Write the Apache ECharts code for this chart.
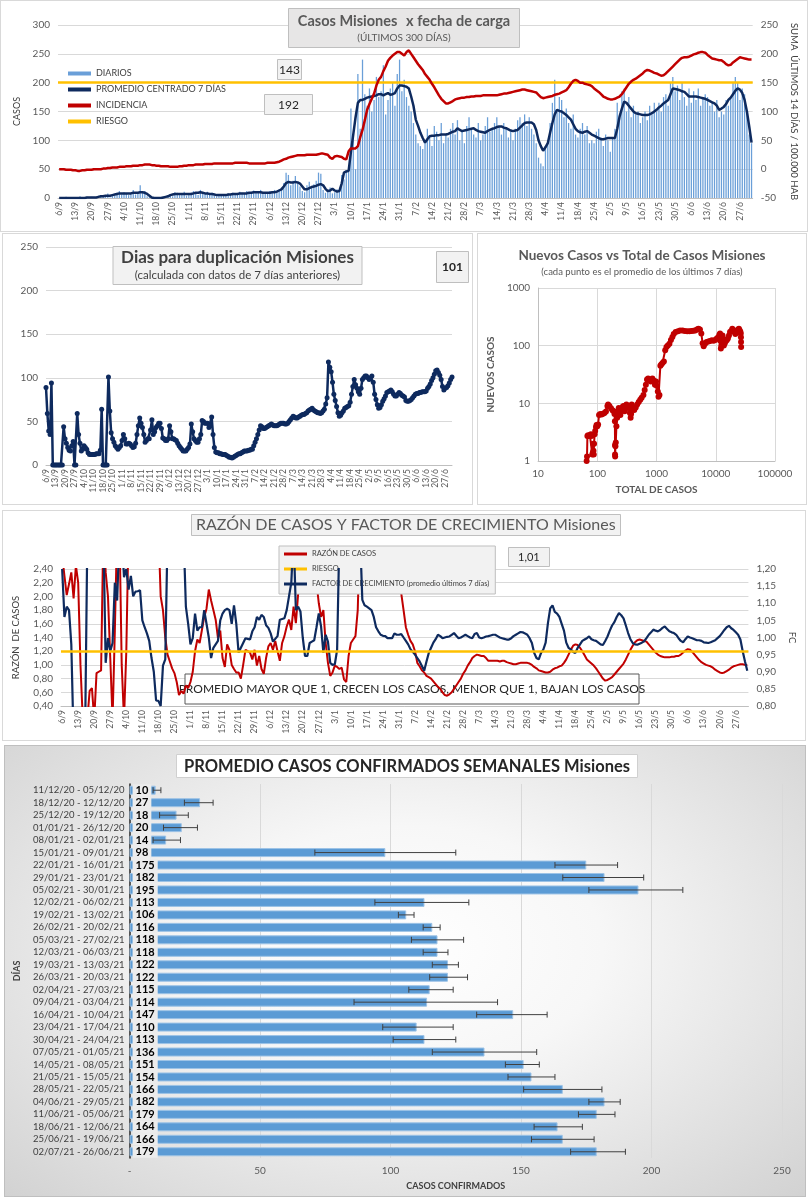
<!DOCTYPE html>
<html><head><meta charset="utf-8">
<script src="https://cdn.jsdelivr.net/npm/echarts@6/dist/echarts.min.js"></script>
<style>
html,body{margin:0;padding:0;background:#fff;}
body{width:808px;height:1200px;position:relative;overflow:hidden;}
.p{position:absolute;box-sizing:border-box;border:1px solid #d9d9d9;}
#c1{left:0;top:0;width:808px;height:232px;}
#c2{left:2px;top:233px;width:471px;height:272px;}
#c3{left:477px;top:233px;width:330px;height:272px;}
#c4{left:2px;top:510px;width:804px;height:231px;}
#c5{left:4px;top:745px;width:802px;height:452px;border-color:#bfbfbf;
 background:radial-gradient(ellipse at 50% 45%, #ffffff 0%, #f7f7f7 35%, #d2d2d2 100%);}
</style></head><body>
<div id="c1" class="p"></div>
<div id="c2" class="p"></div>
<div id="c3" class="p"></div>
<div id="c4" class="p"></div>
<div id="c5" class="p"></div>
<script>
const FONT = 'Lato, "Open Sans", sans-serif';
// ---- daily categories: 300 days from 6/9/2020 ----
const START_Y = 2020, START_M = 8, START_D = 6, N_DAYS = 300;
const DATES = [];
for (let i = 0; i < N_DAYS; i++) {
  const d = new Date(Date.UTC(START_Y, START_M, START_D + i));
  DATES.push(d.getUTCDate() + '/' + (d.getUTCMonth() + 1));
}
// ---- chart 1: casos diarios ----
const DIARIOS = [
0,1,0,2,0,1,0,1,0,3, 1,0,2,1,2,1,0,4,5,2, 3,8,1,6,4,9,12,6,10,7, 5,9,14,6,8,22,10,12,3,2,
1,0,0,0,1,2,1,4,6,3, 10,9,5,8,11,4,6,9,12,7, 5,14,10,8,11,6,9,4,3,7, 5,6,4,8,5,9,8,6,11,9,
7,12,10,8,13,9,11,14,8,7, 10,12,9,14,11,15,18,26,44,40, 22,30,38,25,20,12,10,22,28,18, 24,30,44,42,14,9,12,18,8,10,
15,12,40,32,48,55,155,110,50,215, 120,240,180,160,190,150,170,210,175,185, 230,145,170,190,200,160,215,240,185,205, 175,160,150,130,110,95,90,85,100,120,
105,90,125,115,100,130,95,110,105,120, 130,110,135,100,115,95,125,140,120,110, 105,130,100,110,125,140,115,120,130,140, 125,110,130,120,105,115,100,120,135,140,
130,145,125,140,120,110,95,70,60,55, 90,100,130,165,205,150,175,170,140,155, 130,120,145,110,105,120,130,110,125,95, 100,95,115,120,105,90,110,100,80,105,
120,165,140,185,190,150,175,140,160,145, 150,130,140,150,135,160,145,165,150,165, 150,175,180,160,200,210,185,195,170,200, 175,160,190,165,185,170,190,160,175,180,
175,160,165,150,170,140,150,145,170,160, 175,200,210,200,170,190,180,150,110,95];
const PROMEDIO7 = [
0,0,0,0,0,0,0,0,0,0, 0,0,1,1,1,1,1,2,3,3, 4,4,4,5,6,7,8,8,8,8, 8,8,9,9,9,10,10,9,7,4,
1,0,0,0,0,1,2,3,5,6, 7,7,7,7,7,7,7,7,8,9, 9,10,9,8,8,7,7,6,5,5, 5,5,5,6,6,7,7,7,8,8,
8,8,9,9,10,10,10,10,9,9, 9,9,10,10,11,13,15,20,26,28, 27,27,28,27,25,20,15,15,17,19, 20,21,23,24,22,16,12,13,16,13,
11,12,25,44,46,47,80,110,140,165, 170,170,172,174,175,176,177,178,180,180, 178,180,182,179,180,182,190,195,195,194, 193,190,176,160,136,125,113,104,96,102,
107,108,108,109,109,110,110,110,111,113, 115,116,121,118,116,117,118,119,120,121, 118,116,115,114,113,116,118,120,121,123, 124,124,122,121,119,117,116,117,118,122,
126,130,131,131,131,128,118,100,90,82, 88,95,113,130,145,153,151,150,147,144, 140,136,128,120,116,114,113,115,116,113, 110,108,106,104,102,102,103,104,104,104,
104,120,141,155,167,165,160,155,150,147, 146,145,144,144,144,145,147,150,153,157, 160,164,167,170,180,190,189,188,187,185, 184,180,176,176,176,176,175,174,173,172,
170,168,166,164,160,153,155,158,163,170, 174,180,186,190,188,182,170,150,124,96];
const INCIDENCIA = [
0,0,0,-1,-1,-1,-2,-2,-3,-3, -2,-2,-1,-1,-1,0,0,0,0,1, 1,2,2,3,3,3,4,4,4,5, 5,5,6,6,6,7,7,8,8,8,
7,7,6,6,5,5,5,5,4,4, 4,4,5,5,6,6,7,7,7,8, 8,8,8,9,9,9,9,10,10,10, 10,10,10,10,10,10,11,11,11,11,
11,11,10,10,10,10,10,10,10,10, 11,11,11,11,12,13,15,17,18,20, 21,22,23,24,24,24,24,25,25,25, 25,25,26,27,27,26,25,20,18,22,
23,22,21,18,17,31,36,36,36,40, 55,68,85,103,113,122,131,145,155,160, 170,178,188,193,197,200,203,203,200,197, 203,206,200,194,188,182,177,172,165,160,
155,148,142,135,128,122,118,114,114,116, 118,121,122,123,124,124,125,125,126,126, 127,127,127,128,128,128,128,128,128,128, 129,130,131,131,132,133,134,135,136,137,
138,138,137,136,135,134,133,129,125,123, 124,125,126,127,129,130,131,133,135,137, 142,148,153,155,153,150,150,148,147,146, 144,140,137,134,130,126,124,122,121,121,
122,124,126,130,136,142,148,152,155,157, 160,163,166,170,172,171,169,167,166,164, 162,163,166,170,174,178,182,186,190,193, 194,194,195,197,199,200,202,203,203,202,
198,195,192,191,190,189,189,186,182,180, 181,185,188,191,194,193,192,191,190,190];
const RIESGO_CASOS = 200;
const BOX_A = '143', BOX_B = '192';
// ---- chart 2: dias para duplicacion ----
const DUPLICACION = [
89,59,39,35,94,0,0,0,0,0, 0,0,0,44,30,25,20,17,16,22, 27,0,0,59,35,25,16,18,22,20, 18,14,12,12,12,12,12,13,13,13,
17,64,0,0,0,0,101,62,37,30, 26,22,20,18,20,22,28,35,30,24, 24,25,24,22,20,21,25,35,45,54, 48,43,35,26,28,30,30,40,52,35,
38,43,45,48,48,42,31,30,28,28, 30,45,38,30,30,29,28,25,22,20, 18,16,16,16,18,20,24,47,38,30, 28,26,26,30,35,51,50,48,48,48,
43,45,55,35,20,15,14,14,13,13, 12,12,12,11,10,9,9,8,9,10, 11,12,13,13,14,15,16,16,16,17, 17,18,18,22,26,30,35,40,45,44,
42,42,43,44,45,46,47,46,45,45, 45,46,47,48,48,48,47,47,48,50, 52,54,56,55,54,54,55,56,57,58, 58,59,60,62,63,64,65,63,62,61,
60,60,59,60,62,64,70,77,118,112, 107,95,81,74,67,60,56,57,60,62, 65,66,67,68,72,81,90,98,92,88, 84,81,88,98,100,102,102,100,98,100,
102,95,81,75,69,65,66,69,73,76, 79,83,84,85,86,84,81,79,79,81, 83,82,80,79,78,74,73,73,74,75, 77,79,81,82,82,83,83,84,84,84,
85,88,90,93,97,100,104,108,109,106, 103,98,90,86,88,89,91,94,98,101];
const BOX_DUP = '101';
// ---- chart 3: nuevos casos vs total ----
const TOTAL_CASOS = [66,67,68,70,72,75,78,80,82,84,85,86,87,88,90,92,95,97,100,103,107,112,118,125,132,140,148,152,160,170,180,190,195,198,199,199,200,202,205,210,216,222,230,238,245,252,260,270,280,290,300,310,320,330,345,355,365,372,380,400,420,445,470,500,530,560,600,630,660,690,720,760,800,850,900,940,980,1020,1050,1080,1120,1160,1200,1260,1330,1400,1470,1550,1650,1750,1850,1950,2100,2300,2500,2750,3000,3300,3600,3900,4200,4500,4800,5100,5400,5700,6000,6250,6600,7000,7500,8000,8600,9200,9800,10400,11000,11500,11800,12000,12200,12400,12600,12800,13000,13300,13700,14200,14800,15400,16000,16700,17400,18200,19000,19800,20600,21400,22200,23000,23800,24600,25300,26000,26400,26600,26700,26800];
const NUEVOS_CASOS = [1.0,1.2,2.7,2.8,2.7,2.8,2.9,2.7,1.3,1.4,2.0,1.5,1.3,2.0,2.9,3.3,3.9,4.2,4.0,4.3,6.3,6.5,6.4,6.6,6.8,7.2,9.0,9.5,9.0,8.2,7.6,7.3,6.5,4.9,1.9,1.3,1.2,1.8,2.1,4.0,5.6,7.2,8.3,7.0,6.3,7.5,8.0,8.8,9.0,7.3,8.5,9.5,8.8,8.3,9.0,6.8,5.6,6.5,9.5,8.5,7.7,8.5,9.5,10.5,11.5,12.5,14,17,21,26,27,25,24,27,25,21,24,20,16,13,14,45,47,50,53,83,95,101,108,125,141,160,172,178,184,184,180,178,178,180,182,184,190,197,190,162,110,98,108,116,118,120,124,122,126,133,140,155,162,120,89,100,116,140,150,130,101,110,120,125,133,150,172,180,197,185,172,160,170,184,190,197,185,175,162,140,116,95];
// ---- chart 4: razon de casos y factor de crecimiento ----
const RAZON = [
2.6,2.3,2.02,2.18,2.35,1.97,2.45,2.2,1.0,0.2, 0.2,0.2,0.62,0.66,0.2,0.88,0.9,0.92,3,2.35, 2.0,1.1,0.2,1.5,3,3,1.0,0.2,1.2,3, 3,3,3,3,3,3,3,3,3,3,
3,3,3,2.0,1.8,1.4,1.15,1.05,0.95,0.88, 0.75,0.56,0.62,0.58,0.70,0.66,0.75,0.9,1.2,1.37, 1.32,1.51,1.7,1.82,2.1,1.94,1.8,1.66,1.39,1.5, 1.1,0.97,1.3,1.22,1.0,0.94,0.89,0.89,0.8,1.0,
1.22,1.2,1.18,1.08,1.22,0.99,1.13,0.94,0.87,1.1, 1.27,1.32,1.22,1.35,1.2,1.06,1.32,1.42,1.56,1.66, 1.51,1.85,1.61,2.04,3,3,3,3,3,3, 3,2.2,1.9,1.7,1.8,1.32,1.03,0.84,0.89,0.99,
0.97,0.94,0.96,0.79,0.75,1.13,1.32,1.37,1.42,1.8, 3,3,3,3,3,3,3,3,3,3, 3,3,3,3,3,3,3,3,2.04,1.8, 1.55,1.44,1.35,1.3,1.2,1.03,0.98,0.92,0.89,0.84,
0.82,0.8,0.76,0.72,0.68,0.65,0.6,0.56,0.55,0.57, 0.6,0.65,0.7,0.75,0.8,0.87,0.92,0.99,1.04,1.1, 1.13,1.15,1.14,1.13,1.13,1.1,1.06,1.06,1.06,1.06, 1.06,1.05,1.06,1.06,1.04,1.03,1.02,1.01,1.01,1.02,
1.03,1.03,1.03,1.03,1.02,1.0,0.97,0.95,0.92,0.91, 0.9,0.89,0.89,0.9,0.93,0.95,0.96,0.98,0.99,1.03, 1.08,1.15,1.22,1.28,1.3,1.29,1.25,1.2,1.14,1.08, 1.05,1.02,0.99,0.95,0.9,0.85,0.8,0.77,0.78,0.8,
0.82,0.86,0.9,0.94,0.98,1.02,1.08,1.15,1.22,1.28, 1.33,1.36,1.37,1.36,1.35,1.34,1.3,1.26,1.22,1.18, 1.15,1.13,1.12,1.11,1.11,1.11,1.12,1.12,1.13,1.13, 1.15,1.18,1.21,1.23,1.22,1.19,1.15,1.11,1.07,1.04,
1.02,1.0,0.99,0.98,0.96,0.93,0.91,0.89,0.88,0.89, 0.91,0.93,0.96,0.98,0.99,1.0,1.01,1.01,1.0,1.0];
const FACTOR = [
1.2,1.06,1.09,1.08,0.98,0.7,0.7,0.7,0.7,0.7, 0.7,1.3,1.3,1.3,1.3,1.3,1.3,1.3,1.3,0.926, 0.998,0.96,0.984,1.16,1.108,1.3,1.3,1.176,1.2,1.14, 1.18,1.12,1.134,1.135,1.138,1.05,1.03,1.012,0.99,0.94,
0.9,0.816,0.815,0.8,0.918,0.936,1.3,1.3,1.3,1.3, 1.3,1.3,1.3,1.3,1.09,1.04,0.98,0.998,1.07,1.02, 1.03,1.03,1.08,1.04,1.0,0.94,0.97,0.98,0.99,1.05, 1.07,1.08,1.084,1.08,1.04,1.094,1.04,0.956,0.97,0.984,
0.998,0.996,0.994,1.018,1.03,1.06,1.052,1.066,1.06,1.036, 1.028,1.012,0.988,0.996,1.004,1.052,1.054,1.056,1.08,1.12, 1.16,1.3,1.08,1.09,1.076,1.0,0.946,0.946,0.984,0.988, 0.992,1.03,1.07,1.032,0.956,1.008,0.988,0.926,0.92,0.922,
0.964,1.3,1.3,1.3,1.3,1.3,1.3,1.3,1.3,1.3, 1.3,1.11,1.094,1.09,1.085,1.08,1.06,1.03,1.018,1.008, 1.005,1.004,0.998,0.998,0.998,1.012,1.008,1.008,1.01,1.0, 0.99,0.98,0.966,0.958,0.95,0.94,0.93,0.917,0.903,0.93,
0.955,0.97,0.985,0.995,1.008,1.004,0.998,1.0,1.002,1.003, 1.008,1.013,1.005,0.998,1.0,1.004,1.008,1.004,1.0,0.998, 1.01,1.013,1.0,0.998,1.0,1.003,1.004,1.006,1.008,1.008, 1.004,1.0,0.998,0.996,0.994,0.994,0.998,1.004,1.008,1.012,
1.016,1.015,1.012,1.008,0.998,0.984,0.955,0.94,0.936,0.955, 0.965,0.985,1.042,1.085,1.094,1.075,1.07,1.06,1.04,1.02, 0.985,0.97,0.965,0.958,0.955,0.97,0.98,0.99,0.994,0.998, 1.003,0.995,0.992,0.99,0.985,0.98,0.978,0.99,1.003,1.02,
1.035,1.045,1.06,1.071,1.065,1.056,1.035,1.013,0.995,0.984, 0.98,0.979,0.982,0.985,0.989,0.998,1.008,1.015,1.023,1.02, 1.018,1.022,1.028,1.032,1.025,1.018,1.015,1.013,1.008,0.998, 0.99,0.986,0.995,1.003,1.0,0.998,0.995,0.992,0.992,0.99,
0.986,0.985,0.984,0.986,0.989,0.992,0.998,1.004,1.013,1.022, 1.03,1.034,1.027,1.022,1.015,1.008,0.994,0.96,0.93,0.903];
const RIESGO_RAZON = 1.2;
const BOX_FC = '1,01';
const NOTE_FC = 'PROMEDIO MAYOR QUE 1, CRECEN LOS CASOS, MENOR QUE 1, BAJAN LOS CASOS';
// ---- chart 5: promedio semanal ----
const SEMANAS = ['11/12/20 - 05/12/20','18/12/20 - 12/12/20','25/12/20 - 19/12/20','01/01/21 - 26/12/20','08/01/21 - 02/01/21','15/01/21 - 09/01/21','22/01/21 - 16/01/21','29/01/21 - 23/01/21','05/02/21 - 30/01/21','12/02/21 - 06/02/21','19/02/21 - 13/02/21','26/02/21 - 20/02/21','05/03/21 - 27/02/21','12/03/21 - 06/03/21','19/03/21 - 13/03/21','26/03/21 - 20/03/21','02/04/21 - 27/03/21','09/04/21 - 03/04/21','16/04/21 - 10/04/21','23/04/21 - 17/04/21','30/04/21 - 24/04/21','07/05/21 - 01/05/21','14/05/21 - 08/05/21','21/05/21 - 15/05/21','28/05/21 - 22/05/21','04/06/21 - 29/05/21','11/06/21 - 05/06/21','18/06/21 - 12/06/21','25/06/21 - 19/06/21','02/07/21 - 26/06/21'];
const PROM_SEMANAL = [10,27,18,20,14,98,175,182,195,113,106,116,118,118,122,122,115,114,147,110,113,136,151,154,166,182,179,164,166,179];
const ERR_BAJO = [9,21,11.5,13,9,71,163,166,176,94,103,112.5,108,112.5,116,115,107,86,133,97,101,116,144,145,151,176,172,155,154,169];
const ERR_ALTO = [12,32,22.5,26,19.5,125,187,197,212,130,109,119,128,122,126,129.5,124,141,160,124,125,156,157,163,181,188,186,173.5,178,190];

const comma = v => v.toFixed(2).replace('.', ',');
const AX = {fontSize:10, color:'#595959', fontFamily:FONT};
const GRID_LINE = {lineStyle:{color:'#d9d9d9', width:1}};
const NAVY = '#0E2A5E', RED = '#C00000', GOLD = '#FFC000', BLUE = '#6A9FD8';

// ===== chart 1 =====
echarts.init(document.getElementById('c1')).setOption({
  animation:false, textStyle:{fontFamily:FONT},
  title:[
    {text:'{b|Casos Misiones}  {n|x fecha de carga}', subtext:'(ÚLTIMOS 300 DÍAS)', left:'center', top:7,
     padding:[4,10,5,10], itemGap:3, backgroundColor:'#e7e6e6', borderColor:'#bfbfbf', borderWidth:1,
     textStyle:{rich:{b:{fontSize:14.5,fontWeight:'bold',color:'#595959',fontFamily:FONT}, n:{fontSize:14.5,color:'#595959',fontFamily:FONT}}},
     subtextStyle:{fontSize:10,color:'#595959',fontFamily:FONT}},
    {text:BOX_A, left:276, top:58, padding:[5,2,4,2], backgroundColor:'#f2f2f2', borderColor:'#bfbfbf', borderWidth:1,
     textStyle:{fontSize:12,fontWeight:'normal',color:'#262626',fontFamily:FONT}},
    {text:BOX_B, left:263, top:93, padding:[5,14,4,14], backgroundColor:'#f2f2f2', borderColor:'#bfbfbf', borderWidth:1,
     textStyle:{fontSize:12,fontWeight:'normal',color:'#262626',fontFamily:FONT}}
  ],
  legend:{orient:'vertical', left:62, top:63, itemWidth:23, itemHeight:4, itemGap:7, icon:'rect',
    textStyle:{fontSize:9,color:'#404040',fontFamily:FONT},
    data:['DIARIOS','PROMEDIO CENTRADO 7 DÍAS','INCIDENCIA','RIESGO']},
  grid:{left:57,right:51,top:24,bottom:33},
  xAxis:{type:'category', data:DATES, axisTick:{show:false},
    axisLine:{lineStyle:{color:'#bfbfbf'}},
    axisLabel:{interval:6, rotate:90, fontSize:8.5, color:'#595959', margin:4}},
  yAxis:[
    {type:'value', min:0, max:300, interval:50, name:'CASOS', nameLocation:'middle', nameGap:35,
     nameTextStyle:{fontSize:9,color:'#404040'}, axisLabel:AX, splitLine:GRID_LINE},
    {type:'value', min:-50, max:250, interval:50, position:'right', name:'SUMA  ÚLTIMOS 14 DÍAS / 100.000 HAB',
     nameLocation:'middle', nameRotate:-90, nameGap:36, nameTextStyle:{fontSize:9.5,color:'#404040'},
     axisLabel:AX, splitLine:{show:false}}
  ],
  series:[
    {name:'DIARIOS', type:'bar', data:DIARIOS, barWidth:'55%', itemStyle:{color:BLUE}},
    {name:'PROMEDIO CENTRADO 7 DÍAS', type:'line', data:PROMEDIO7, symbol:'none', z:4,
     itemStyle:{color:NAVY}, lineStyle:{color:NAVY,width:2.5},
     markLine:{silent:true, symbol:'none', label:{show:false}, lineStyle:{color:GOLD,width:2.5,type:'solid'}, data:[{yAxis:RIESGO_CASOS}]}},
    {name:'INCIDENCIA', type:'line', yAxisIndex:1, data:INCIDENCIA, symbol:'none', z:5,
     itemStyle:{color:RED}, lineStyle:{color:RED,width:2.5}},
    {name:'RIESGO', type:'line', data:[], itemStyle:{color:GOLD}, lineStyle:{color:GOLD}}
  ]
});

// ===== chart 2 =====
echarts.init(document.getElementById('c2')).setOption({
  animation:false, textStyle:{fontFamily:FONT},
  title:[
    {text:'Dias para duplicación Misiones', subtext:'(calculada con datos de 7 días anteriores)', left:'center', top:12,
     padding:[3,8,4,8], itemGap:3, backgroundColor:'#f2f2f2', borderColor:'#bfbfbf', borderWidth:1,
     textStyle:{fontSize:17,fontWeight:'bold',color:'#404040',fontFamily:FONT},
     subtextStyle:{fontSize:11.5,color:'#404040',fontFamily:FONT}},
    {text:BOX_DUP, left:433, top:17, padding:[10,6,10,6], backgroundColor:'#f2f2f2', borderColor:'#bfbfbf', borderWidth:1,
     textStyle:{fontSize:12,fontWeight:'bold',color:'#262626',fontFamily:FONT}}
  ],
  grid:{left:43,right:20,top:13,bottom:39},
  xAxis:{type:'category', data:DATES, boundaryGap:false, axisTick:{show:false},
    axisLine:{lineStyle:{color:'#bfbfbf'}},
    axisLabel:{interval:6, rotate:90, fontSize:8.5, color:'#595959', margin:4}},
  yAxis:{type:'value', min:0, max:250, interval:50, axisLabel:AX, splitLine:GRID_LINE},
  series:[{type:'line', data:DUPLICACION, symbol:'circle', symbolSize:5, showAllSymbol:true,
    itemStyle:{color:NAVY}, lineStyle:{color:NAVY,width:2.5}}]
});

// ===== chart 3 =====
const plain = v => String(Math.round(v));
echarts.init(document.getElementById('c3')).setOption({
  animation:false, textStyle:{fontFamily:FONT},
  title:{text:'Nuevos Casos vs Total de Casos Misiones', subtext:'(cada punto es el promedio de los últimos 7 días)',
    left:'center', top:10, itemGap:4,
    textStyle:{fontSize:13.5,fontWeight:'bold',color:'#595959',fontFamily:FONT},
    subtextStyle:{fontSize:9.5,color:'#595959',fontFamily:FONT}},
  grid:{left:57,right:31,top:54,bottom:43},
  xAxis:{type:'log', logBase:10, min:10, max:100000, name:'TOTAL DE CASOS', nameLocation:'middle', nameGap:24,
    nameTextStyle:{fontSize:10,fontWeight:'bold',color:'#595959'},
    axisLabel:Object.assign({formatter:plain}, AX), axisTick:{show:false}, axisLine:{lineStyle:{color:'#bfbfbf'}}, splitLine:GRID_LINE},
  yAxis:{type:'log', logBase:10, min:1, max:1000, name:'NUEVOS CASOS', nameLocation:'middle', nameGap:36,
    nameTextStyle:{fontSize:10,fontWeight:'bold',color:'#595959'},
    axisLabel:Object.assign({formatter:plain}, AX), axisTick:{show:false}, axisLine:{show:true,lineStyle:{color:'#bfbfbf'}}, splitLine:GRID_LINE},
  series:[{type:'line', data:TOTAL_CASOS.map((t,i)=>[t,NUEVOS_CASOS[i]]), symbol:'circle', symbolSize:6,
    itemStyle:{color:RED}, lineStyle:{color:RED,width:2}}]
});

// ===== chart 4 =====
echarts.init(document.getElementById('c4')).setOption({
  animation:false, textStyle:{fontFamily:FONT},
  title:[
    {text:'RAZÓN DE CASOS Y FACTOR DE CRECIMIENTO Misiones', left:188, top:3, padding:[3,5,3,5],
     backgroundColor:'#f2f2f2', borderColor:'#bfbfbf', borderWidth:1,
     textStyle:{fontSize:16,fontWeight:'normal',color:'#595959',fontFamily:FONT}},
    {text:BOX_FC, left:505, top:36, padding:[5,10,4,10], backgroundColor:'#f2f2f2', borderColor:'#bfbfbf', borderWidth:1,
     textStyle:{fontSize:11,fontWeight:'normal',color:'#262626',fontFamily:FONT}}
  ],
  legend:{orient:'vertical', left:276, top:35, padding:[4,6,6,5], itemWidth:23, itemHeight:3, itemGap:7, icon:'rect',
    backgroundColor:'#f2f2f2', borderColor:'#bfbfbf', borderWidth:1,
    textStyle:{fontSize:7.5,color:'#404040',fontFamily:FONT},
    data:['RAZÓN DE CASOS','RIESGO','FACTOR DE CRECIMIENTO (promedio últimos 7 días)']},
  grid:{left:56,right:49,top:58,bottom:34},
  xAxis:{type:'category', data:DATES, axisTick:{show:false}, axisLine:{lineStyle:{color:'#bfbfbf'}},
    axisLabel:{interval:6, rotate:90, fontSize:8.5, color:'#595959', margin:4}},
  yAxis:[
    {type:'value', min:0.4, max:2.4, interval:0.2, name:'RAZÓN  DE CASOS', nameLocation:'middle', nameGap:40,
     nameTextStyle:{fontSize:9.5,color:'#404040'}, axisLabel:Object.assign({formatter:comma}, AX), splitLine:GRID_LINE},
    {type:'value', min:0.8, max:1.2, interval:0.05, position:'right', name:'FC', nameLocation:'middle', nameRotate:-90, nameGap:35,
     nameTextStyle:{fontSize:9.5,color:'#404040'}, axisLabel:Object.assign({formatter:comma}, AX), splitLine:{show:false}}
  ],
  graphic:[
    {type:'rect', x:182, y:163, z:1, shape:{x:0,y:0,width:454,height:30}, style:{fill:'#ffffff',stroke:'#595959',lineWidth:1}},
    {type:'text', x:409, y:178, z:1, style:{text:NOTE_FC, fontSize:12, fontFamily:FONT, fill:'#262626', align:'center', verticalAlign:'middle'}}
  ],
  series:[
    {name:'RAZÓN DE CASOS', type:'line', data:RAZON, symbol:'none', z:3, itemStyle:{color:RED}, lineStyle:{color:RED,width:2},
     markLine:{silent:true, symbol:'none', label:{show:false}, lineStyle:{color:GOLD,width:2.5,type:'solid'}, data:[{yAxis:RIESGO_RAZON}]}},
    {name:'RIESGO', type:'line', data:[], itemStyle:{color:GOLD}, lineStyle:{color:GOLD}},
    {name:'FACTOR DE CRECIMIENTO (promedio últimos 7 días)', type:'line', yAxisIndex:1, data:FACTOR, symbol:'none', z:4,
     itemStyle:{color:NAVY}, lineStyle:{color:NAVY,width:2.2}}
  ]
});

// ===== chart 5 =====
function renderErr(params, api) {
  const a = api.coord([api.value(0), api.value(2)]);
  const b = api.coord([api.value(1), api.value(2)]);
  const st = {stroke:'#404040', lineWidth:1};
  return {type:'group', children:[
    {type:'line', shape:{x1:a[0],y1:a[1],x2:b[0],y2:b[1]}, style:st},
    {type:'line', shape:{x1:a[0],y1:a[1]-3,x2:a[0],y2:a[1]+3}, style:st},
    {type:'line', shape:{x1:b[0],y1:b[1]-3,x2:b[0],y2:b[1]+3}, style:st}
  ]};
}
echarts.init(document.getElementById('c5')).setOption({
  animation:false, textStyle:{fontFamily:FONT},
  title:{text:'PROMEDIO CASOS CONFIRMADOS SEMANALES Misiones', left:171, top:8, padding:[4,8,3,8],
    backgroundColor:'#ffffff', borderColor:'#d0d0d0', borderWidth:1,
    textStyle:{fontSize:16.5,fontWeight:'bold',color:'#262626',fontFamily:FONT}},
  grid:{left:119,right:23,top:38,bottom:33},
  xAxis:{type:'value', min:0, max:250, interval:50, name:'CASOS CONFIRMADOS', nameLocation:'middle', nameGap:24,
    nameTextStyle:{fontSize:9,fontWeight:'bold',color:'#404040'},
    axisLabel:Object.assign({formatter:v => v === 0 ? '-' : String(v)}, AX),
    axisLine:{show:false}, axisTick:{show:false}, splitLine:GRID_LINE},
  yAxis:{type:'category', data:SEMANAS, inverse:true, name:'DÍAS', nameLocation:'middle', nameGap:104,
    nameTextStyle:{fontSize:9,fontWeight:'bold',color:'#404040'},
    axisTick:{show:false}, axisLine:{lineStyle:{color:'#262626',width:1.5}},
    axisLabel:{interval:0, fontSize:9.5, color:'#404040', margin:5, fontFamily:FONT}},
  series:[
    {type:'bar', data:PROM_SEMANAL, barWidth:9, itemStyle:{color:'#5B9BD5', borderColor:'#9DC3E6', borderWidth:1},
     label:{show:true, position:'insideLeft', distance:3, fontSize:11, fontWeight:'bold', color:'#000',
       backgroundColor:'#ececec', padding:[1,3,0,3], fontFamily:FONT}},
    {type:'custom', renderItem:renderErr, z:5, encode:{x:[0,1], y:2},
     data:ERR_BAJO.map((lo,i)=>[lo, ERR_ALTO[i], i])}
  ]
});
</script>
</body></html>
